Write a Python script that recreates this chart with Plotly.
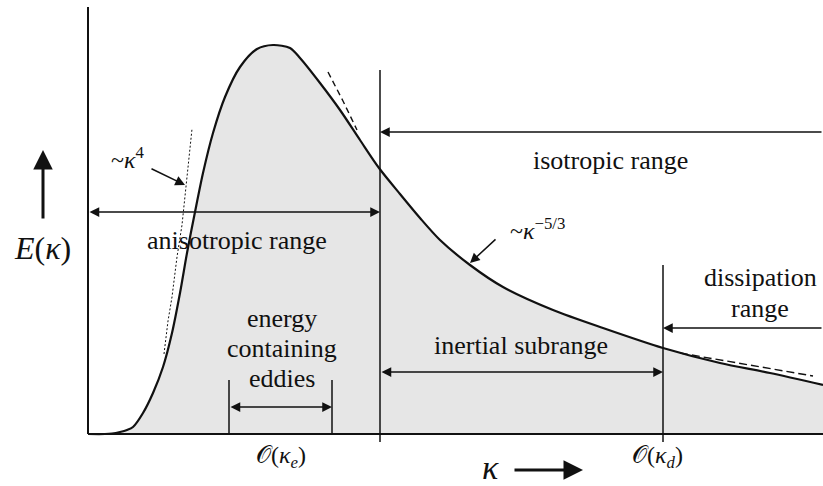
import plotly.graph_objects as go

# Schematic turbulent energy spectrum E(kappa), drawn on a linear canvas
kappa = [0, 17, 24, 32, 39, 45, 55, 65, 75, 84, 92, 99, 107, 115, 125, 137, 152, 169,
         185, 202, 212, 232, 252, 272, 291, 312, 332, 352, 382, 415, 465, 515, 575,
         632, 682, 735]
energy = [0, 0, 0.5, 2, 4, 7, 21, 41, 67, 101, 141, 181, 222, 261, 301, 337, 367, 385,
          389, 386, 376, 351, 324, 294, 266, 240, 216, 194, 169, 147, 124, 106, 86,
          71, 61, 49]

# -5/3 power-law guide, drawn near the break and beyond the dissipation scale
k53_hi_k = [240, 255, 269]
k53_hi_e = [362, 333, 304]
k53_lo_k = [592, 725]
k53_lo_e = [81, 58]

# kappa^4 guide at small wavenumbers
k4_k = [76, 80, 84, 89, 94, 98, 104]
k4_e = [80, 113, 137, 177, 209, 247, 305]

# characteristic wavenumbers
K_E = (141, 244)      # energy containing eddies
K_BREAK = 292         # anisotropic / isotropic split
K_D = 575             # dissipation scale
K_MAX = 735
E_TOP = 427

FONT = "Liberation Serif, Times New Roman, Tinos, DejaVu Serif, serif"
INK = "#111111"

fig = go.Figure()

fig.add_trace(go.Scatter(x=kappa, y=energy, mode="lines",
                         line=dict(color=INK, width=2.2, shape="spline", smoothing=0.8),
                         fill="tozeroy", fillcolor="#e6e6e6", hoverinfo="skip"))
fig.add_trace(go.Scatter(x=k53_hi_k, y=k53_hi_e, mode="lines", line=dict(color=INK, width=1.4, dash="6px,4px"),
                         hoverinfo="skip"))
fig.add_trace(go.Scatter(x=k53_lo_k, y=k53_lo_e, mode="lines", line=dict(color=INK, width=1.4, dash="8px,4px"),
                         hoverinfo="skip"))
fig.add_trace(go.Scatter(x=k4_k, y=k4_e, mode="lines", line=dict(color=INK, width=1, dash="2px,2px"),
                         hoverinfo="skip"))

shapes = []
def vline(x, y0, y1, w=1.5):
    shapes.append(dict(type="line", xref="x", yref="y", x0=x, x1=x, y0=y0, y1=y1,
                       line=dict(color=INK, width=w)))

# axes
vline(0, 0, E_TOP, 2)
shapes.append(dict(type="line", xref="x", yref="y", x0=0, x1=K_MAX, y0=0, y1=0,
                   line=dict(color=INK, width=2)))
vline(K_BREAK, -8, 364)
vline(K_D, -8, 169)
vline(K_E[0], 0, 54)
vline(K_E[1], 0, 54)

ann = []
def arrow(x0, y0, x1, y1, both=False, w=1.5):
    d = dict(x=x1, y=y1, ax=x0, ay=y0, xref="x", yref="y", axref="x", ayref="y",
             text="", showarrow=True, arrowhead=2, arrowsize=1.3, arrowwidth=w, arrowcolor=INK)
    if both:
        d.update(arrowside="end+start", startarrowhead=2, startarrowsize=1.3)
    ann.append(d)

def label(x, y, s, size=26):
    ann.append(dict(x=x, y=y, xref="x", yref="y", text=s, showarrow=False,
                    font=dict(family=FONT, size=size, color=INK), xanchor="center", yanchor="middle"))

arrow(0, 222, K_BREAK, 222, both=True)
arrow(K_MAX, 302, K_BREAK, 302)
arrow(K_MAX, 106, K_D, 106)
arrow(K_BREAK, 62, K_D, 62, both=True)
arrow(K_E[0], 27, K_E[1], 27, both=True)
arrow(-45, 214, -45, 284, w=3)
arrow(425, -36, 495, -36, w=3)
arrow(62, 266, 97, 249)
arrow(409, 196, 382, 171)

label(40, 276, "~<i>κ</i><sup>4</sup>", 24)
label(-46, 186, "<i>E</i>(<i>κ</i>)", 32)
label(149, 194, "anisotropic range")
label(522, 274, "isotropic range")
label(449, 205, "~<i>κ</i><sup>−5/3</sup>", 24)
label(672, 157, "dissipation")
label(672, 126, "range")
label(433, 89, "inertial subrange")
label(194, 116, "energy")
label(194, 86, "containing")
label(194, 56, "eddies")
label(193, -23, "𝒪(<i>κ<sub>e</sub></i>)", 24)
label(569, -23, "𝒪(<i>κ<sub>d</sub></i>)", 24)
label(402, -33, "<i>κ</i>", 34)

fig.update_layout(
    width=823, height=486, margin=dict(l=0, r=0, t=0, b=0),
    paper_bgcolor="white", plot_bgcolor="white", showlegend=False,
    font=dict(family=FONT),
    xaxis=dict(range=[-88, 735], visible=False, fixedrange=True),
    yaxis=dict(range=[-52, 434], visible=False, fixedrange=True),
    shapes=shapes, annotations=ann,
)

fig.write_html("out.html")
